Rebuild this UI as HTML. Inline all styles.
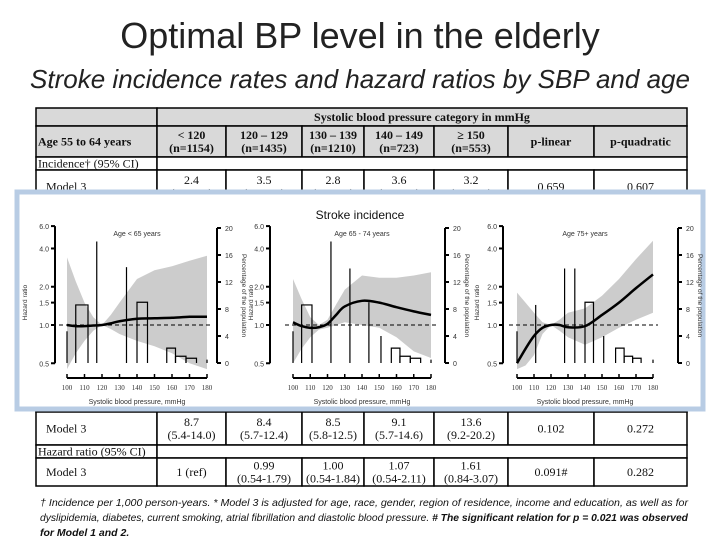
<!DOCTYPE html>
<html><head><meta charset="utf-8"><style>
body{margin:0;background:#fff;}
svg{display:block;}
.ser{font-family:"Liberation Serif",serif;}
.san{font-family:"Liberation Sans",sans-serif;}
</style></head><body>
<svg id="s" width="720" height="540" viewBox="0 0 720 540" xmlns="http://www.w3.org/2000/svg">
<text x="360" y="48" text-anchor="middle" class="san" font-size="36" fill="#222">Optimal BP level in the elderly</text>
<text x="360" y="88" text-anchor="middle" class="san" font-size="26" font-style="italic" fill="#222" textLength="660" lengthAdjust="spacingAndGlyphs">Stroke incidence rates and hazard ratios by SBP and age</text>
<g id="table"></g>
<g id="foot" class="san" font-size="10.5" font-style="italic" fill="#111">
<text x="40" y="506" textLength="648" lengthAdjust="spacingAndGlyphs">† Incidence per 1,000 person-years. * Model 3 is adjusted for age, race, gender, region of residence,  income and education, as well as  for</text>
<text x="40" y="521" textLength="648" lengthAdjust="spacingAndGlyphs">dyslipidemia, diabetes, current smoking, atrial fibrillation and diastolic blood pressure. <tspan font-weight="bold"># The significant relation for p = 0.021 was observed</tspan></text>
<text x="40" y="536" font-weight="bold">for Model 1 and 2.</text>
</g>
<g id="overlay"></g>
</svg>
<script>
// ---- chart data ----
const sbpTicks=[100,110,120,130,140,150,160,170,180];
const hrTicks=[0.5,1.0,1.5,2.0,4.0,6.0];
const pctTicks=[0,4,8,12,16,20];
const panelTitles=["Age < 65 years","Age 65 - 74 years","Age 75+ years"];
const curveX=[100,105,110,115,120,125,130,140,150,160,170,180];
const hr1=[1.0,0.98,0.98,0.99,1.0,1.03,1.07,1.12,1.13,1.14,1.16,1.16];
const up1=[3.4,2.2,1.5,1.15,1.0,1.2,1.5,2.3,2.7,2.9,3.2,3.5];
const lo1=[0.45,0.6,0.75,0.9,1.0,0.93,0.85,0.75,0.68,0.6,0.5,0.45];
const hr2=[1.05,0.98,0.95,0.96,1.02,1.2,1.4,1.55,1.5,1.38,1.28,1.2];
const up2=[2.3,1.6,1.15,1.0,1.1,1.45,1.9,2.45,2.35,2.35,2.45,2.6];
const lo2=[0.5,0.65,0.8,0.92,0.95,1.0,1.05,1.0,0.95,0.8,0.62,0.55];
const hr3=[0.5,0.65,0.82,0.95,1.0,1.0,0.96,0.98,1.2,1.5,1.95,2.5];
const up3=[1.8,1.5,1.25,1.05,1.0,1.1,1.25,1.35,1.7,2.3,3.3,4.6];
const lo3=[0.45,0.48,0.58,0.85,1.0,0.9,0.8,0.7,0.8,0.95,1.1,1.25];
const binL1=[100,105,117,134,140,157,162,168,180];
const binR1=[100,112,117,134,146,162,168,174,180];
const pct1=[4.7,8.6,18,14.2,9,2.2,1.0,0.7,0.5];
const binL2=[100,105,122,133,144,151,157,162,168,180];
const binR2=[100,111,122,133,144,151,162,168,174,180];
const pct2=[4.7,8.6,18,14,9,4,2.2,1.0,0.7,0.5];
const binL3=[100,111,128,134,140,151,158,163,168,180];
const binR3=[100,111,128,134,145,151,163,168,173,180];
const pct3=[4.7,8.6,14,14,9,4,2.2,1.0,0.7,0.5];

const NS="http://www.w3.org/2000/svg";
function mk(tag,attrs,parent,txt){const e=document.createElementNS(NS,tag);for(const k in attrs)e.setAttribute(k,attrs[k]);if(txt!==undefined)e.textContent=txt;parent.appendChild(e);return e;}

// ---- table ----
const T=document.getElementById('table');
const cols=[36,157,226,302,364,434,508,594,687];
function cell(x1,x2,y1,y2,fill,lines,bold,left){
  const r=mk('rect',{x:x1,y:y1,width:x2-x1,height:y2-y1,fill:fill,stroke:'#000','stroke-width':1.5},T);
  
  
  const n=lines.length, cy=(y1+y2)/2;
  lines.forEach((l,i)=>{const t=mk('text',{x:left?x1+(left===2?10:2):(x1+x2)/2,y:cy+4+(i-(n-1)/2)*13,'text-anchor':left?'start':'middle','font-size':12,'font-weight':bold?'bold':'normal','class':'ser',fill:'#111'},T,l);
  
  });
}
const g='#d9d9d9';
cell(36,157,108,126,g,[],false);
cell(157,687,108,126,g,["Systolic blood pressure category in mmHg"],true);
cell(36,157,126,157,g,["Age 55 to 64 years"],true,1);
const hd=[["< 120","(n=1154)"],["120 – 129","(n=1435)"],["130 – 139","(n=1210)"],["140 – 149","(n=723)"],["≥ 150","(n=553)"],["p-linear"],["p-quadratic"]];
hd.forEach((h,i)=>cell(cols[i+1],cols[i+2],126,157,g,h,true));
cell(36,157,157,170,'#fff',["Incidence† (95% CI)"],false,1);
cell(157,687,157,170,'#fff',[]);
const r1=[["2.4","(1.4-4.3)"],["3.5","(2.4-5.2)"],["2.8","(1.8-4.3)"],["3.6","(2.1-6.0)"],["3.2","(1.7-6.1)"],["0.659"],["0.607"]];
cell(36,157,170,203,'#fff',["Model 3"],false,2);
r1.forEach((h,i)=>cell(cols[i+1],cols[i+2],170,203,'#fff',h));
cell(36,157,398,412,'#fff',["Incidence† (95% CI)"],false,1);
cell(157,687,398,412,'#fff',[]);
const r2=[["8.7","(5.4-14.0)"],["8.4","(5.7-12.4)"],["8.5","(5.8-12.5)"],["9.1","(5.7-14.6)"],["13.6","(9.2-20.2)"],["0.102"],["0.272"]];
cell(36,157,412,445,'#fff',["Model 3"],false,2);
r2.forEach((h,i)=>cell(cols[i+1],cols[i+2],412,445,'#fff',h));
cell(36,157,445,458,'#fff',["Hazard ratio (95% CI)"],false,1);
cell(157,687,445,458,'#fff',[]);
const r3=[["1 (ref)"],["0.99","(0.54-1.79)"],["1.00","(0.54-1.84)"],["1.07","(0.54-2.11)"],["1.61","(0.84-3.07)"],["0.091#"],["0.282"]];
cell(36,157,458,486,'#fff',["Model 3"],false,2);
r3.forEach((h,i)=>cell(cols[i+1],cols[i+2],458,486,'#fff',h));

// ---- overlay figure ----
const O=document.getElementById('overlay');
const box=mk('rect',{x:17,y:192,width:686,height:217,fill:'#fff',stroke:'#b8cce4','stroke-width':5},O);


const ft=mk('text',{x:360,y:219,'text-anchor':'middle','font-size':12,'class':'san',fill:'#111'},O,'Stroke incidence');



const panels=[
 {x0:67,x1:207,ax:55,rax:217,lOff:28,rOff:25,hr:hr1,up:up1,lo:lo1,bl:binL1,br:binR1,p:pct1},
 {x0:293,x1:431,ax:270,rax:445,lOff:17,rOff:20,hr:hr2,up:up2,lo:lo2,bl:binL2,br:binR2,p:pct2},
 {x0:517,x1:653,ax:503,rax:678,lOff:24,rOff:20,hr:hr3,up:up3,lo:lo3,bl:binL3,br:binR3,p:pct3}];
const yTop=228,yBot=363;
function yHR(v){return 325-Math.log(v)*55.2;}
function yPct(v){return yBot-(v/20)*(yBot-yTop);}
panels.forEach((P,pi)=>{
  const G=mk('g',{},O);
  
  
  const xS=v=>P.x0+(v-100)/80*(P.x1-P.x0);
  let d='';curveX.forEach((x,i)=>{d+=(i?'L':'M')+xS(x).toFixed(1)+','+yHR(P.up[i]).toFixed(1);});
  for(let i=curveX.length-1;i>=0;i--)d+='L'+xS(curveX[i]).toFixed(1)+','+yHR(P.lo[i]).toFixed(1);
  const band=mk('path',{d:d+'Z',fill:'#cccccc',stroke:'none'},G);
  
  
  P.p.forEach((v,i)=>{if(v<=0)return;
    const x1=xS(P.bl[i]),x2=xS(P.br[i]);
    let b;
    if(x2-x1<0.5){b=mk('line',{x1:x1,x2:x1,y1:yPct(v),y2:yBot,stroke:'#000','stroke-width':1.2},G);}
    else{b=mk('path',{d:`M${x1},${yBot}V${yPct(v)}H${x2}V${yBot}`,fill:'none',stroke:'#000','stroke-width':1.2},G);}
    
    });
  const rl=mk('line',{x1:P.x0-8,x2:P.x1+5,y1:yHR(1),y2:yHR(1),stroke:'#000','stroke-dasharray':'4,3','stroke-width':1},G);
  
  
  const pts=curveX.map((x,i)=>[xS(x),yHR(P.hr[i])]);
  let c='M'+pts[0][0]+','+pts[0][1];
  for(let i=0;i<pts.length-1;i++){const p0=pts[Math.max(0,i-1)],p1=pts[i],p2=pts[i+1],p3=pts[Math.min(pts.length-1,i+2)];
    c+=`C${p1[0]+(p2[0]-p0[0])/6},${p1[1]+(p2[1]-p0[1])/6} ${p2[0]-(p3[0]-p1[0])/6},${p2[1]-(p3[1]-p1[1])/6} ${p2[0]},${p2[1]}`;}
  const cv=mk('path',{d:c,fill:'none',stroke:'#000','stroke-width':2.5},G);
  
  
  const la=mk('line',{x1:P.ax,x2:P.ax,y1:yHR(6),y2:yHR(0.5),stroke:'#000','stroke-width':2},G);
  
  
  hrTicks.forEach(v=>{mk('line',{x1:P.ax-4,x2:P.ax,y1:yHR(v),y2:yHR(v),stroke:'#000','stroke-width':2},G);
    const t=mk('text',{x:P.ax-6,y:yHR(v)+3,'text-anchor':'end','font-size':7,'class':'san',fill:'#333'},G,v.toFixed(1));
    
    });
  const lt=mk('text',{x:0,y:0,'text-anchor':'middle','font-size':6.5,'class':'san',fill:'#333',transform:`translate(${P.ax-P.lOff},${yHR(1.5)}) rotate(-90)`},G,'Hazard ratio');
  
  
  const ra=mk('line',{x1:P.rax,x2:P.rax,y1:yTop,y2:yBot,stroke:'#000','stroke-width':2},G);
  
  
  pctTicks.forEach(v=>{mk('line',{x1:P.rax,x2:P.rax+4,y1:yPct(v),y2:yPct(v),stroke:'#000','stroke-width':2},G);
    const t=mk('text',{x:P.rax+8,y:yPct(v)+3,'font-size':7,'class':'san',fill:'#333'},G,String(v));
    
    });
  const rt=mk('text',{x:0,y:0,'text-anchor':'middle','font-size':6.5,'class':'san',fill:'#333',transform:`translate(${P.rax+P.rOff},${(yTop+yBot)/2}) rotate(90)`},G,'Percentage of the population');
  
  
  const xa=mk('line',{x1:P.x0,x2:P.x1,y1:378,y2:378,stroke:'#000','stroke-width':2},G);
  
  
  sbpTicks.forEach(v=>{mk('line',{x1:xS(v),x2:xS(v),y1:374,y2:378,stroke:'#000','stroke-width':1.5},G);
    const t=mk('text',{x:xS(v),y:390,'text-anchor':'middle','font-size':7,'class':'ser',fill:'#333'},G,String(v));
    
    });
  const xt=mk('text',{x:(P.x0+P.x1)/2,y:404,'text-anchor':'middle','font-size':7,'class':'san',fill:'#333'},G,'Systolic blood pressure, mmHg');
  
  
  const pt=mk('text',{x:(P.x0+P.x1)/2,y:236,'text-anchor':'middle','font-size':7,'class':'san',fill:'#333'},G,panelTitles[pi]);
  
  
});
</script>
</body></html>
